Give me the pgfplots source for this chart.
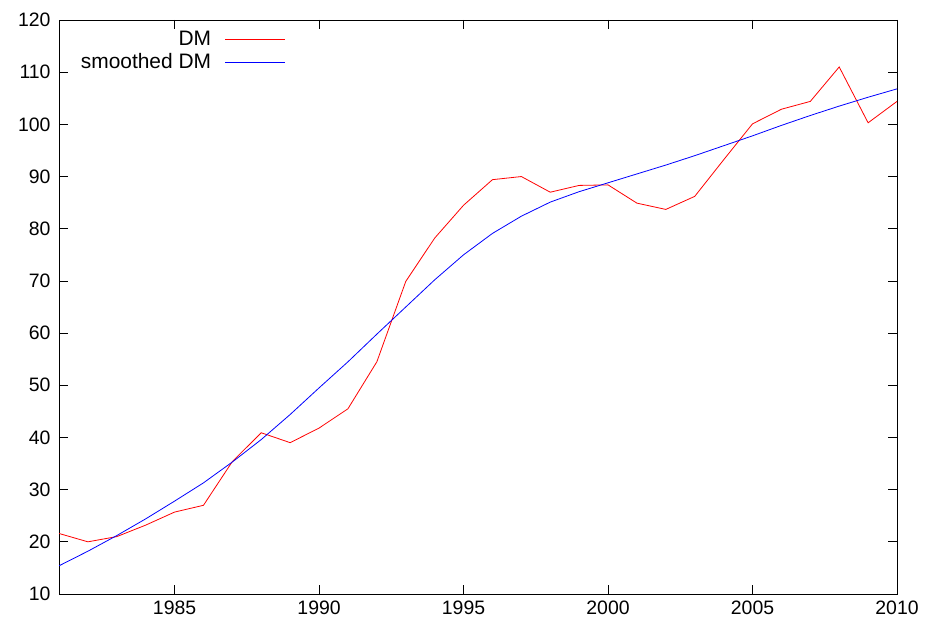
\documentclass[border=0pt]{standalone}
\usepackage{pgfplots}
\pgfplotsset{compat=1.18}
\usepackage{fontspec}
\setmainfont{Liberation Sans}
\begin{document}
\begin{tikzpicture}
\path[use as bounding box] (-59bp,-36bp) rectangle (872bp,594bp);
\begin{axis}[
  at={(0,0)}, anchor=south west,
  scale only axis, width=838bp, height=574bp,
  xmin=1981, xmax=2010, ymin=10, ymax=120,
  xtick={1985,1990,...,2010}, ytick={10,20,...,120},
  tick align=inside, major tick length=9bp,
  tick style={black, line width=0.8bp},
  axis line style={black, line width=0.8bp},
  /pgf/number format/assume math mode=true,
  /pgf/number format/1000 sep={},
  font=\fontsize{19.5}{22}\selectfont,
  yticklabel style={xshift=-5bp},
  xticklabel style={yshift=-3bp},
  legend cell align=right,
  legend plot pos=right,
  legend style={draw=none, fill=none, at={(0.271,0.984)}, anchor=north east,
    inner sep=0pt, row sep=2bp, font=\fontsize{21}{24}\selectfont,
    nodes={inner sep=0pt, text height=16bp, text depth=5bp}},
  legend image code/.code={\path (0bp,0bp); \draw[#1] (14bp,0bp) -- (74bp,0bp);},
]
\addplot[color={rgb,255:red,255;green,0;blue,0}, line width=0.8bp] coordinates {
(1981,21.6) (1982,20.0) (1983,21.0) (1984,23.2) (1985,25.7) (1986,27.0)
(1987,35.4) (1988,40.9) (1989,39.0) (1990,41.8) (1991,45.5) (1992,54.5)
(1993,69.9) (1994,78.2) (1995,84.5) (1996,89.4) (1997,90.0) (1998,87.0)
(1999,88.3) (2000,88.4) (2001,84.9) (2002,83.7) (2003,86.2) (2004,93.2)
(2005,100.1) (2006,102.9) (2007,104.4) (2008,111.0) (2009,100.3) (2010,104.4)
};
\addlegendentry{DM}
\addplot[color={rgb,255:red,0;green,0;blue,255}, line width=0.8bp] coordinates {
(1981,15.4) (1982,18.2) (1983,21.2) (1984,24.4) (1985,27.8) (1986,31.3)
(1987,35.3) (1988,39.6) (1989,44.4) (1990,49.5) (1991,54.5) (1992,59.8)
(1993,65.0) (1994,70.2) (1995,75.0) (1996,79.1) (1997,82.4) (1998,85.1)
(1999,87.1) (2000,88.8) (2001,90.5) (2002,92.2) (2003,94.0) (2004,95.9)
(2005,97.8) (2006,99.8) (2007,101.7) (2008,103.5) (2009,105.2) (2010,106.8)
};
\addlegendentry{smoothed DM}
\end{axis}
\end{tikzpicture}
\end{document}
